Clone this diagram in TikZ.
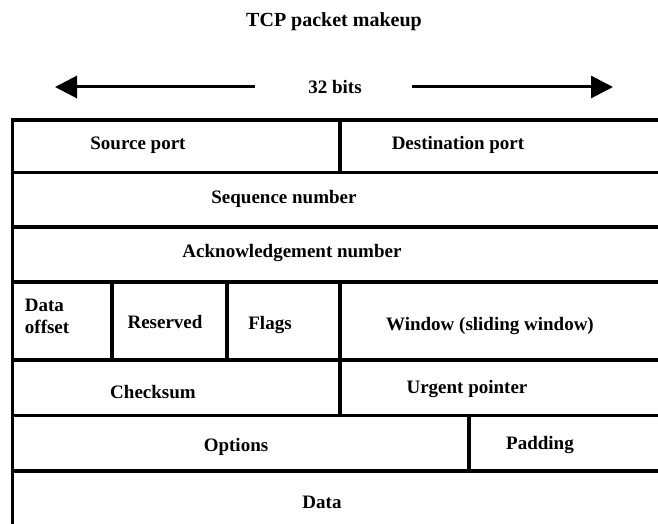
\documentclass[tikz,border=0pt]{standalone}
\usepackage{fontspec}
\setmainfont{Liberation Serif}
\usepackage{tikz}
\usetikzlibrary{arrows.meta}

\tikzset{
  cellbox/.style={line width=3.2pt},
  celltext/.style={inner sep=0.75pt, font=\fontsize{19}{21}\selectfont\bfseries, align=center},
  widtharrow/.style={line width=3pt, -{Triangle[length=22pt,width=22pt]}}
}

\begin{document}
\begin{tikzpicture}[x=1pt,y=1pt,yscale=-1,xscale=1]
\useasboundingbox (0,0) rectangle (658,524);
\clip (0,0) rectangle (658,524);

% title and width arrows
\draw (334,22) node (title) [anchor=center][inner sep=0.75pt][font=\fontsize{20}{22}\selectfont\bfseries] {TCP packet makeup};
\draw (335,87) node (bits) [celltext] {32 bits};
\coordinate (lgap) at (255,87);
\coordinate (ltip) at (55,87);
\coordinate (rgap) at (412,87);
\coordinate (rtip) at (613,87);
\draw [widtharrow] (lgap) -- (ltip);
\draw [widtharrow] (rgap) -- (rtip);

% row 1
\draw [cellbox] (12.5,120) -- (340,120) -- (340,172.5) -- (12.5,172.5) -- cycle ;
\draw [cellbox] (340,120) -- (680,120) -- (680,172.5) -- (340,172.5) -- cycle ;

% row 2
\draw [cellbox] (12.5,172.5) -- (680,172.5) -- (680,227) -- (12.5,227) -- cycle ;

% row 3
\draw [cellbox] (12.5,227) -- (680,227) -- (680,282) -- (12.5,282) -- cycle ;

% row 4
\draw [cellbox] (12.5,282) -- (112,282) -- (112,360) -- (12.5,360) -- cycle ;
\draw [cellbox] (112,282) -- (227,282) -- (227,360) -- (112,360) -- cycle ;
\draw [cellbox] (227,282) -- (340,282) -- (340,360) -- (227,360) -- cycle ;
\draw [cellbox] (340,282) -- (680,282) -- (680,360) -- (340,360) -- cycle ;

% row 5
\draw [cellbox] (12.5,360) -- (340,360) -- (340,415.5) -- (12.5,415.5) -- cycle ;
\draw [cellbox] (340,360) -- (680,360) -- (680,415.5) -- (340,415.5) -- cycle ;

% row 6
\draw [cellbox] (12.5,415.5) -- (469,415.5) -- (469,471) -- (12.5,471) -- cycle ;
\draw [cellbox] (469,415.5) -- (680,415.5) -- (680,471) -- (469,471) -- cycle ;

% row 7
\draw [cellbox] (12.5,471) -- (680,471) -- (680,540) -- (12.5,540) -- cycle ;


\draw (138,145) node (srcport) [celltext] {Source port};
\draw (458,145) node (dstport) [celltext] {Destination port};
\draw (284,199) node (seqnum) [celltext] {Sequence number};
\draw (292,253) node (acknum) [celltext] {Acknowledgement number};
\draw (24,316) node (offset) [celltext][anchor=west][align=left] {Data\\[1pt]offset};
\draw (165,322) node (reserved) [celltext] {Reserved};
\draw (270,325) node (flags) [celltext] {Flags};
\draw (490,326) node (window) [celltext] {Window (sliding window)};
\draw (153,392) node (checksum) [celltext] {Checksum};
\draw (467,389) node (urgent) [celltext] {Urgent pointer};
\draw (236,447) node (options) [celltext] {Options};
\draw (540,445) node (padding) [celltext] {Padding};
\draw (322,502) node (data) [celltext] {Data};


\end{tikzpicture}
\end{document}
